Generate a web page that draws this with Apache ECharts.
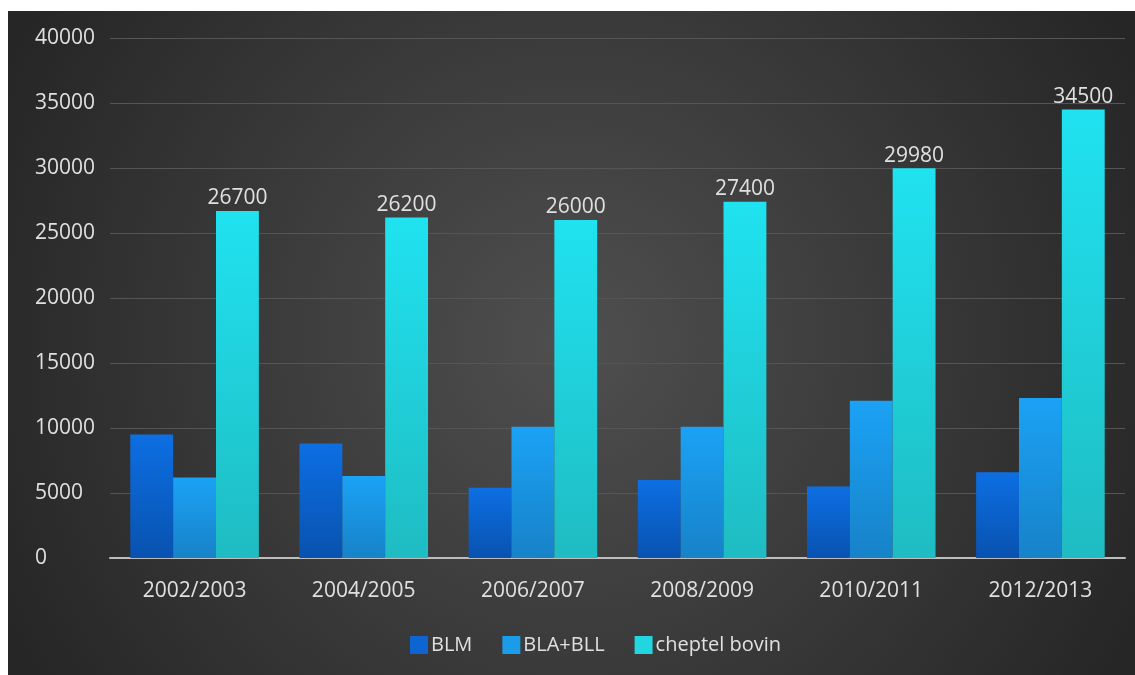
<!DOCTYPE html>
<html><head><meta charset="utf-8">
<script src="https://cdn.jsdelivr.net/npm/echarts@6/dist/echarts.min.js"></script>
<style>
html,body{margin:0;padding:0;background:#fff;width:1135px;height:675px;overflow:hidden}
#c{position:absolute;left:8px;top:11px;width:1127px;height:664px}
</style></head>
<body><div id="c"></div>
<script>
const categories = ['2002/2003','2004/2005','2006/2007','2008/2009','2010/2011','2012/2013'];
const blm = [9500, 8800, 5400, 6000, 5500, 6600];
const blaBll = [6200, 6300, 10100, 10100, 12100, 12300];
const cheptel = [26700, 26200, 26000, 27400, 29980, 34500];
const seriesNames = ['BLM','BLA+BLL','cheptel bovin'];

const FONT = '"Open Sans", sans-serif';
const TXT = '#e0e0e0';
function grad(top, bottom){
  return {type:'linear',x:0,y:0,x2:0,y2:1,colorStops:[{offset:0,color:top},{offset:1,color:bottom}]};
}
const chart = echarts.init(document.getElementById('c'));
chart.setOption({
  backgroundColor:{type:'radial',x:0.5,y:0.5,r:0.95,colorStops:[{offset:0,color:'#4f4f4f'},{offset:1,color:'#262626'}]},
  textStyle:{fontFamily:FONT},
  animation:false,
  grid:{left:102,right:10,top:27,bottom:117},
  legend:{
    left:397, top:619, itemWidth:18, itemHeight:18, itemGap:30,
    icon:'rect',
    textStyle:{color:TXT,fontSize:20,fontFamily:FONT,padding:[0,0,0,-2]},
    data:[
      {name:seriesNames[0],itemStyle:{color:'#0e64d0'}},
      {name:seriesNames[1],itemStyle:{color:'#1a9ce8'}},
      {name:seriesNames[2],itemStyle:{color:'#22d6e0'}}
    ]
  },
  xAxis:{
    type:'category', data:categories,
    axisLine:{lineStyle:{color:'#bdbdbd',width:2}},
    axisTick:{show:false},
    axisLabel:{color:TXT,fontSize:21,fontFamily:FONT,margin:23}
  },
  yAxis:{
    type:'value', min:0, max:40000, interval:5000,
    axisLine:{show:false}, axisTick:{show:false},
    axisLabel:{color:TXT,fontSize:21,fontFamily:FONT,align:'left',margin:75,formatter:function(v){return String(v);}},
    splitLine:{lineStyle:{color:'#555555',width:1}}
  },
  series:[
    {name:seriesNames[0],type:'bar',data:blm,barGap:'0%',barCategoryGap:'24%',
     itemStyle:{color:grad('#0d6fe2','#0852b0')}},
    {name:seriesNames[1],type:'bar',data:blaBll,barGap:'0%',barCategoryGap:'24%',
     itemStyle:{color:grad('#1ba2f5','#1782c8')}},
    {name:seriesNames[2],type:'bar',data:cheptel,barGap:'0%',barCategoryGap:'24%',
     itemStyle:{color:grad('#20e2f0','#1fbcc2')},
     label:{show:true,position:'top',distance:2,color:TXT,fontSize:21,fontFamily:FONT}}
  ]
});
</script></body></html>
